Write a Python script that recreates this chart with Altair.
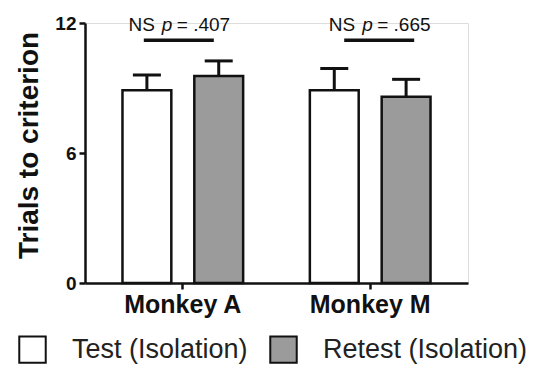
import altair as alt
import pandas as pd

# ---- data ----
monkeys = ["Monkey A", "Monkey A", "Monkey M", "Monkey M"]
conditions = ["Test (Isolation)", "Retest (Isolation)", "Test (Isolation)", "Retest (Isolation)"]
means = [8.9, 9.55, 8.9, 8.6]
upper = [9.6, 10.25, 9.9, 9.4]

ann_monkeys = ["Monkey A", "Monkey M"]
ann_ns = ["NS", "NS"]
ann_p = ["p", "p"]
ann_vals = ["= .407", "= .665"]
ann_line_y = [11.2, 11.2]
ann_text_y = [11.65, 11.65]

monkey_order = ["Monkey A", "Monkey M"]
cond_order = ["Test (Isolation)", "Retest (Isolation)"]
FONT = "Liberation Sans"

df = pd.DataFrame({"monkey": monkeys, "condition": conditions, "mean": means, "upper": upper})
ann = pd.DataFrame({"monkey": ann_monkeys, "ns": ann_ns, "p": ann_p, "val": ann_vals,
                    "ly": ann_line_y, "ty": ann_text_y})

xenc = alt.X("monkey:N", sort=monkey_order,
             scale=alt.Scale(paddingInner=0.356, paddingOuter=0.2),
             axis=alt.Axis(title=None, labelAngle=0, labelFontSize=25, labelFontWeight="bold",
                           labelColor="#111", labelFont=FONT, tickSize=6, tickWidth=2.5,
                           tickColor="#111", domainColor="#111", domainWidth=2.5,
                           labelPadding=3, grid=False))
xoff = alt.XOffset("condition:N", sort=cond_order,
                   scale=alt.Scale(paddingInner=0.32, paddingOuter=0))
yscale = alt.Scale(domain=[0, 12], nice=False)
yaxis = alt.Axis(values=[0, 6, 12], title="Trials to criterion", titleFontSize=28,
                 titleFontWeight="bold", titleFont=FONT, titleColor="#111", titleY=122,
                 labelFontSize=19, labelFontWeight="bold", labelFont=FONT, labelColor="#111",
                 tickSize=6, tickWidth=2.5, tickColor="#111", domainColor="#111",
                 domainWidth=2.5, grid=False, labelPadding=3, titlePadding=11)

base = alt.Chart(df)

bars = base.mark_bar(stroke="#111", strokeWidth=2.5, opacity=1).encode(
    x=xenc, xOffset=xoff,
    y=alt.Y("mean:Q", scale=yscale, axis=yaxis),
    color=alt.Color("condition:N", sort=cond_order,
                    scale=alt.Scale(domain=cond_order, range=["#ffffff", "#9b9b9b"]),
                    legend=alt.Legend(title=None, orient="none", direction="horizontal",
                                      legendX=-67, legendY=312, symbolType="square",
                                      symbolSize=700, symbolStrokeColor="#111",
                                      symbolStrokeWidth=2, symbolOpacity=1,
                                      labelFontSize=27, labelLimit=400,
                                      labelFont=FONT, labelColor="#222", labelOffset=25,
                                      columnPadding=18)),
)

err = base.mark_rule(color="#111", strokeWidth=3, opacity=1).encode(
    x=alt.X("monkey:N", sort=monkey_order), xOffset=xoff,
    y=alt.Y("mean:Q"), y2="upper:Q")

caps = base.mark_tick(color="#111", size=28, thickness=3, opacity=1).encode(
    x=alt.X("monkey:N", sort=monkey_order), xOffset=xoff,
    y=alt.Y("upper:Q"))

layers = [bars, err, caps]
shifts = {"Monkey A": -4, "Monkey M": 9}
for m in ann_monkeys:
    s = shifts[m]
    a = alt.Chart(ann).transform_filter(alt.datum.monkey == m)
    line = a.mark_tick(color="#111", size=70, thickness=3.5, xOffset=s, opacity=1).encode(
        x=alt.X("monkey:N", sort=monkey_order), y=alt.Y("ly:Q"))
    t1 = a.mark_text(align="right", baseline="alphabetic", dx=s - 24, fontSize=19,
                     font=FONT, color="#111").encode(
        x=alt.X("monkey:N", sort=monkey_order), y=alt.Y("ty:Q"), text="ns:N")
    t2 = a.mark_text(align="left", baseline="alphabetic", dx=s - 17, fontSize=19,
                     font=FONT, fontStyle="italic", color="#111").encode(
        x=alt.X("monkey:N", sort=monkey_order), y=alt.Y("ty:Q"), text="p:N")
    t3 = a.mark_text(align="left", baseline="alphabetic", dx=s - 2, fontSize=19,
                     font=FONT, color="#111").encode(
        x=alt.X("monkey:N", sort=monkey_order), y=alt.Y("ty:Q"), text="val:N")
    layers += [line, t1, t2, t3]

chart = alt.layer(*layers).properties(
    width=383, height=260,
    autosize=alt.AutoSizeParams(type="none"),
    padding={"left": 77, "top": 15, "right": 63, "bottom": 81},
).configure_view(stroke=None).configure(background="white")

chart.save("out.html", embed_options={"renderer": "svg", "actions": False})
